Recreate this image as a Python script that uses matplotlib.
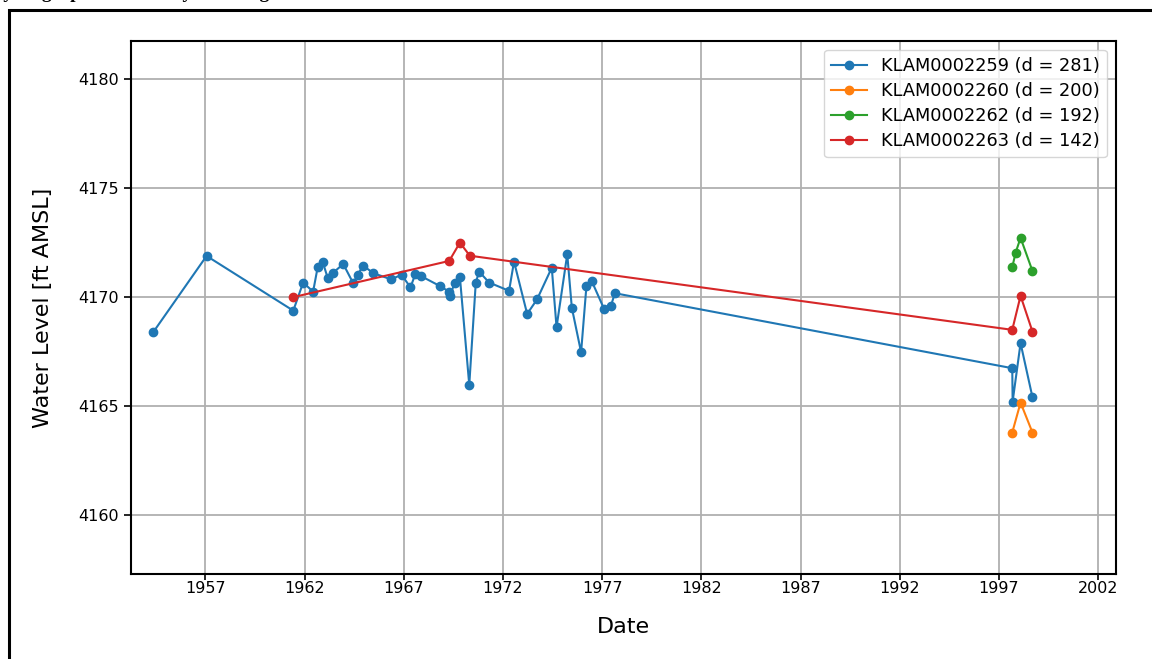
import matplotlib
matplotlib.use('Agg')
import matplotlib.pyplot as plt
import matplotlib.dates as mdates
from matplotlib.patches import Rectangle
import pandas as pd

# well KLAM0002259 (d = 281)
dates_259 = ['1954-05-15', '1957-01-22', '1961-06-06', '1961-12-05', '1962-06-06',
             '1962-08-29', '1962-11-28', '1963-03-03', '1963-06-10', '1963-12-13',
             '1964-06-13', '1964-09-02', '1964-12-13', '1965-06-17', '1966-05-08',
             '1966-11-21', '1967-05-04', '1967-08-03', '1967-11-10', '1968-10-26',
             '1969-04-16', '1969-04-27', '1969-07-31', '1969-10-30', '1970-04-20',
             '1970-08-18', '1970-10-19', '1971-04-20', '1972-04-22', '1972-07-22',
             '1973-03-21', '1973-09-20', '1974-06-17', '1974-09-13', '1975-03-29',
             '1975-06-21', '1975-12-09', '1976-03-17', '1976-06-21', '1977-02-06',
             '1977-06-10', '1977-08-22', '1997-09-02', '1997-09-09', '1998-02-02',
             '1998-09-09']
wl_259 = [4168.38, 4171.88, 4169.37, 4170.66, 4170.24, 4171.36, 4171.62, 4170.86,
          4171.11, 4171.51, 4170.63, 4171.01, 4171.44, 4171.09, 4170.81, 4171.01,
          4170.44, 4171.06, 4170.96, 4170.50, 4170.24, 4170.06, 4170.66, 4170.90,
          4165.96, 4170.66, 4171.16, 4170.66, 4170.28, 4171.62, 4169.22, 4169.89,
          4171.34, 4168.61, 4171.96, 4169.51, 4167.46, 4170.52, 4170.73, 4169.44,
          4169.59, 4170.17, 4166.73, 4165.20, 4167.88, 4165.40]

# well KLAM0002260 (d = 200)
dates_260 = ['1997-09-02', '1998-02-02', '1998-09-09']
wl_260 = [4163.78, 4165.15, 4163.78]

# well KLAM0002262 (d = 192)
dates_262 = ['1997-09-02', '1997-11-03', '1998-02-02', '1998-09-09']
wl_262 = [4171.36, 4172.03, 4172.71, 4171.19]

# well KLAM0002263 (d = 142)
dates_263 = ['1961-06-06', '1969-04-16', '1969-10-30', '1970-04-30',
             '1997-09-02', '1998-02-02', '1998-09-09']
wl_263 = [4169.99, 4171.65, 4172.49, 4171.89, 4168.49, 4170.05, 4168.41]

labels = ['KLAM0002259 (d = 281)', 'KLAM0002260 (d = 200)',
          'KLAM0002262 (d = 192)', 'KLAM0002263 (d = 142)']
tick_years = [1957, 1962, 1967, 1972, 1977, 1982, 1987, 1992, 1997, 2002]

fig = plt.figure(figsize=(11.52, 6.59), dpi=100)
ax = fig.add_axes([0.1137, 0.129, 0.855, 0.8088])

series = [(dates_259, wl_259), (dates_260, wl_260), (dates_262, wl_262), (dates_263, wl_263)]
for (d, w), lab in zip(series, labels):
    ax.plot(pd.to_datetime(d), w, marker='o', markersize=6, linewidth=1.5, label=lab)

ax.set_xlim(pd.Timestamp('1953-04-01'), pd.Timestamp('2002-11-24'))
ax.set_ylim(4157.29, 4181.74)
ax.set_xticks([pd.Timestamp(f'{y}-01-01') for y in tick_years])
ax.xaxis.set_major_formatter(mdates.DateFormatter('%Y'))
ax.set_yticks([4160, 4165, 4170, 4175, 4180])
ax.tick_params(labelsize=11.5, length=5, width=1.2)
ax.tick_params(axis='x', length=4, pad=1)
ax.grid(True, color='#b0b0b0', linewidth=1.3)
for s in ax.spines.values():
    s.set_linewidth(1.5)

ax.set_xlabel('Date', fontsize=16, labelpad=15)
ax.set_ylabel('Water Level [ft AMSL]', fontsize=16, labelpad=18)
ax.legend(loc='upper right', fontsize=12.8, labelspacing=0.4)

# frame of the document page and cut-off caption above it
fig.patches.append(Rectangle((9 / 1152, -0.1), 1.2, 1 - 10 / 659 + 0.1,
                             transform=fig.transFigure, fill=False,
                             edgecolor='black', linewidth=2.2))
fig.text(-0.01, 1 + 2 / 659, 'Hydrographs for nearby and long wells', ha='left',
         va='baseline', fontsize=14, fontweight='bold', family='Liberation Serif')

fig.savefig('out.png', dpi=100)
